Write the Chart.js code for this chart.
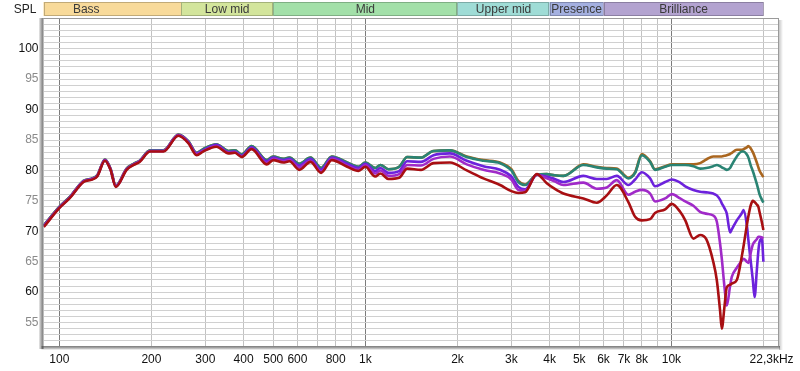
<!DOCTYPE html>
<html>
<head>
<meta charset="utf-8">
<script src="https://cdn.jsdelivr.net/npm/chart.js@4.4.1/dist/chart.umd.min.js"></script>
<style>
  html, body { margin: 0; padding: 0; background: #ffffff; }
  #wrap { width: 800px; height: 371px; }
</style>
</head>
<body>
<div id="wrap"><canvas id="c" width="800" height="371"></canvas></div>
<script>
// ---------- data ----------
const freqs = [89,100,108,120,128,133,141,147,153,166,175,183,198,219,245,264,281,295,326,357,375,394,425,476,500,539,565,608,662,717,777,872,950,1000,1077,1120,1190,1290,1370,1520,1670,1890,2145,2430,2755,3000,3162,3325,3633,3916,4150,4437,5158,5704,6150,6630,7235,7610,8005,8520,8840,9540,10030,10680,11100,11800,12410,13000,13700,14070,14420,14610,14900,15170,15550,15750,16360,17000,17200,17640,17850,18170,18450,18700,19010,19240,19400,19750,19980];

const tealSeries = [71.0,74.0,75.6,78.3,78.7,79.2,81.8,80.3,77.5,80.3,81.1,81.6,83.3,83.3,85.9,84.8,82.9,83.5,84.3,83.2,83.3,82.6,84.0,81.7,82.3,81.9,82.1,81.1,82.1,80.4,82.3,81.3,80.6,81.3,80.4,80.9,80.2,80.6,82.2,82.1,83.2,83.3,82.2,81.6,81.2,80.0,78.1,77.6,79.3,79.4,79.2,79.1,80.9,80.5,80.3,80.2,78.7,79.6,82.5,81.4,80.1,80.6,80.9,80.9,80.9,80.7,80.3,80.4,80.7,80.9,80.7,80.5,80.3,80.1,80.4,80.9,82.3,83.1,83.1,82.6,82.1,80.8,79.9,79.0,77.8,76.8,76.1,75.2,74.7];

const brownSeries = [71.0,74.0,75.6,78.3,78.7,79.2,81.8,80.3,77.5,80.3,81.1,81.6,83.3,83.3,85.9,84.8,82.9,83.5,84.3,83.2,83.3,82.6,84.0,81.7,82.3,81.9,82.1,81.1,82.1,80.4,82.3,81.3,80.6,81.3,80.4,80.9,80.2,80.6,82.2,82.1,83.2,83.3,82.3,81.7,81.3,80.2,78.3,77.7,79.3,79.4,79.2,79.1,81.0,80.6,80.4,80.3,78.8,79.7,82.7,81.5,80.2,80.7,81.0,81.0,81.0,81.0,81.2,81.8,82.3,82.3,82.3,82.3,82.4,82.5,82.7,82.9,83.4,83.4,83.5,83.8,84.0,83.6,83.0,82.3,81.3,80.5,80.0,79.3,78.9];

const violetSeries = [70.9,73.9,75.5,78.2,78.6,79.1,81.7,80.2,77.4,80.2,81.0,81.5,83.2,83.2,85.8,84.7,82.8,83.3,84.2,83.0,83.1,82.4,83.8,81.5,82.1,81.7,81.9,80.8,81.9,80.1,82.1,81.1,80.4,81.1,79.9,80.4,79.6,79.9,81.5,81.4,82.5,82.8,81.6,80.7,80.1,79.0,77.3,76.9,79.3,79.0,78.6,78.1,79.1,78.6,78.6,79.1,77.6,78.5,79.7,78.7,77.4,78.1,78.5,78.0,77.4,76.8,76.5,76.4,76.2,75.9,75.2,74.6,73.8,72.9,69.8,70.3,71.8,73.0,73.5,71.0,68.5,65.0,62.0,59.2,63.5,66.8,68.2,68.8,65.0];

const magentaSeries = [70.8,73.9,75.5,78.2,78.6,79.1,81.7,80.2,77.4,80.2,81.0,81.5,83.2,83.2,85.8,84.6,82.7,83.2,84.0,82.9,83.0,82.3,83.6,81.2,81.9,81.5,81.7,80.5,81.6,79.8,81.9,80.8,80.1,80.9,79.5,80.0,79.1,79.4,80.9,80.8,81.9,82.3,81.0,80.1,79.5,78.5,76.8,76.7,79.3,78.7,78.2,77.6,78.0,77.0,77.2,78.4,76.0,76.5,76.8,76.2,74.9,75.4,76.1,75.4,74.9,74.2,73.2,72.9,72.6,71.6,68.0,65.5,61.0,57.8,61.0,62.5,64.0,65.2,65.5,65.0,64.8,66.5,67.8,68.3,68.7,69.1,69.1,69.0,68.8];

const redSeries = [70.7,73.8,75.4,78.1,78.5,79.0,81.6,80.1,77.3,80.1,80.9,81.4,83.1,83.1,85.7,84.5,82.5,83.1,83.9,82.8,82.9,82.2,83.5,81.0,81.7,81.3,81.5,80.1,81.4,79.6,81.7,80.6,79.9,80.6,79.0,79.5,78.6,78.8,80.3,80.1,81.2,81.3,80.0,78.7,77.6,76.6,76.3,76.4,79.4,77.9,77.0,76.2,75.4,74.7,75.9,77.6,74.8,72.4,71.8,72.0,73.0,73.6,74.5,73.2,71.8,68.8,69.4,68.7,65.0,62.0,57.0,54.0,57.5,60.8,61.2,61.4,62.0,66.0,67.5,71.0,72.5,74.3,75.0,74.8,74.4,74.0,73.2,71.5,70.2];

const xTickValues = [100,200,300,400,500,600,700,800,900,1000,2000,3000,4000,5000,6000,7000,8000,9000,10000,20000,21250];
const xTickLabels = ['100','200','300','400','500','600','','800','','1k','2k','3k','4k','5k','6k','7k','8k','','10k','','22,3kHz'];
const decadeTicks = [100,1000,10000];
const yTickValues = [52,53,54,55,56,57,58,59,60,61,62,63,64,65,66,67,68,69,70,71,72,73,74,75,76,77,78,79,80,81,82,83,84,85,86,87,88,89,90,91,92,93,94,95,96,97,98,99,100,101,102,103,104,105];
const yLabelValues = [55,60,65,70,75,80,85,90,95,100];

const bandNames = ['Bass','Low mid','Mid','Upper mid','Presence','Brilliance'];
const bandStarts = [60,250,500,2000,4000,6000];
const bandEnds = [250,500,2000,4000,6000,20000];

// ---------- styles ----------
const bandColors = ['#f8da9a','#d3e59c','#a3e0a9','#9fdcd6','#a4b0e0','#b3a3d0'];
const FONT = "'Liberation Sans', Arial, sans-serif";

function pts(vals) { return freqs.map((f, i) => ({ x: f, y: vals[i] })); }

const seriesDefs = [
  { data: redSeries, color: '#a80f12' },
  { data: magentaSeries, color: '#a02ac8' },
  { data: violetSeries, color: '#6c22dc' },
  { data: tealSeries, color: '#2a8474' },
  { data: brownSeries, color: '#aa661f' }
];

const overlay = {
  id: 'overlay',
  afterDraw(chart) {
    const ctx = chart.ctx;
    const a = chart.chartArea;
    const xs = chart.scales.x;
    ctx.save();
    ctx.strokeStyle = '#9a9a9a';
    ctx.lineWidth = 1;
    ctx.beginPath();
    ctx.moveTo(a.left, a.top + 0.5); ctx.lineTo(a.right + 0.5, a.top + 0.5);
    ctx.moveTo(a.right + 0.5, a.top); ctx.lineTo(a.right + 0.5, a.bottom);
    ctx.stroke();
    let g = ctx.createLinearGradient(a.right + 1, 0, a.right + 5, 0);
    g.addColorStop(0, 'rgba(0,0,0,0.22)'); g.addColorStop(1, 'rgba(0,0,0,0)');
    ctx.fillStyle = g; ctx.fillRect(a.right + 1, a.top + 2, 4, a.bottom - a.top + 2);
    g = ctx.createLinearGradient(a.left - 5, 0, a.left, 0);
    g.addColorStop(0, 'rgba(0,0,0,0)'); g.addColorStop(1, 'rgba(80,80,80,0.75)');
    ctx.fillStyle = g; ctx.fillRect(a.left - 5, a.top, 5, a.bottom - a.top + 3);
    g = ctx.createLinearGradient(0, a.bottom, 0, a.bottom + 4);
    g.addColorStop(0, 'rgba(80,80,80,0.75)'); g.addColorStop(1, 'rgba(0,0,0,0)');
    ctx.fillStyle = g; ctx.fillRect(a.left - 2, a.bottom, a.right - a.left + 4, 4);

    // band bar
    ctx.font = '12px ' + FONT;
    ctx.textAlign = 'center';
    ctx.textBaseline = 'middle';
    const top = 2, h = 14;
    for (let i = 0; i < bandNames.length; i++) {
      const p0 = xs.getPixelForValue(bandStarts[i]);
      const x0 = Math.max(a.left, p0);
      const x1 = xs.getPixelForValue(bandEnds[i]);
      ctx.fillStyle = bandColors[i];
      ctx.fillRect(x0, top, x1 - x0, h);
      ctx.strokeStyle = 'rgba(0,0,0,0.22)';
      ctx.strokeRect(Math.round(x0) + 0.5, top + 0.5, Math.round(x1 - x0) - 1, h - 1);
      ctx.fillStyle = '#3a3a3a';
      ctx.fillText(bandNames[i], (p0 + x1) / 2, top + h / 2 + 0.5);
    }
    ctx.fillStyle = '#222';
    ctx.fillText('SPL', 25, 9.5);
    ctx.restore();
  }
};

new Chart(document.getElementById('c'), {
  type: 'line',
  data: {
    datasets: seriesDefs.map(s => ({
      data: pts(s.data),
      borderColor: s.color,
      borderWidth: 2.6,
      pointRadius: 0,
      fill: false,
      cubicInterpolationMode: 'monotone'
    }))
  },
  options: {
    responsive: false,
    animation: false,
    devicePixelRatio: 1,
    layout: { padding: { top: 18, right: 22, left: 0, bottom: 0 } },
    plugins: { legend: { display: false }, tooltip: { enabled: false } },
    scales: {
      x: {
        type: 'logarithmic',
        min: 88.8,
        max: 22300,
        afterBuildTicks: (scale) => { scale.ticks = xTickValues.map(v => ({ value: v })); },
        afterFit: (scale) => { scale.height = 25; scale.paddingLeft = 0; scale.paddingRight = 0; },
        border: { display: false },
        grid: {
          drawTicks: false,
          color: (ctx) => {
            const v = ctx.tick ? ctx.tick.value : 0;
            if (v === 21250) return 'rgba(0,0,0,0)';
            return decadeTicks.includes(v) ? '#7c7c7c' : '#c2c2c2';
          },
          lineWidth: 1
        },
        ticks: {
          autoSkip: false,
          maxRotation: 0,
          padding: 6,
          color: '#111',
          font: { family: FONT, size: 12 },
          callback: (v) => { const i = xTickValues.indexOf(v); return i >= 0 ? xTickLabels[i] : ''; }
        }
      },
      y: {
        min: 51.15,
        max: 105.05,
        afterBuildTicks: (scale) => { scale.ticks = yTickValues.map(v => ({ value: v })); },
        afterFit: (scale) => { scale.width = 43.5; scale.paddingTop = 0; scale.paddingBottom = 0; },
        border: { display: false },
        grid: { drawTicks: false, color: '#d0d0d0', lineWidth: 1 },
        ticks: {
          autoSkip: false,
          padding: 5,
          font: { family: FONT, size: 12 },
          color: (ctx) => (ctx.tick && ctx.tick.value % 10 === 0) ? '#111' : '#8a8a8a',
          callback: (v) => yLabelValues.includes(v) ? String(v) : ''
        }
      }
    }
  },
  plugins: [overlay]
});
</script>
</body>
</html>
